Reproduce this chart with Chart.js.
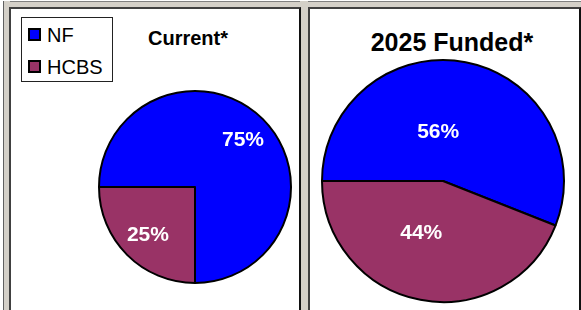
<!DOCTYPE html>
<html>
<head>
<meta charset="utf-8">
<script src="https://cdn.jsdelivr.net/npm/chart.js@4"></script>
<style>
  html, body { margin: 0; padding: 0; background: #fff; }
  body { width: 581px; height: 310px; position: relative; overflow: hidden; font-family: "Liberation Sans", Arial, sans-serif; }
  .band { position: absolute; background: #d4d0c8; }
  .panel { position: absolute; background: #fff; box-sizing: border-box; border: 2px solid #404040; border-right-color: #111; border-bottom: none; }
  .title { position: absolute; font-weight: bold; color: #000; text-align: center; white-space: nowrap; }
  #legend { position: absolute; left: 21px; top: 17px; width: 92px; height: 65px; box-sizing: border-box; border: 1px solid #222; background: #fff; }
  .item { position: absolute; left: 6px; font-size: 20px; line-height: 20px; }
  .swatch { position: absolute; left: 0; width: 13px; height: 13px; box-sizing: border-box; border: 2px solid #000; }
  .item span.txt { position: absolute; left: 19px; top: 0; }
  canvas { position: absolute; }
</style>
</head>
<body>
<div class="band" style="left:3px; top:1px; width:578px; height:8px; border-top:1px solid #808080;"></div>
<div class="band" style="left:3px; top:1px; width:6px; height:309px; border-left:1px solid #606060;"></div>
<div class="band" style="left:300px; top:1px; width:8px; height:309px;"></div>

<div class="panel" style="left:9px; top:7px; width:292px; height:303px;"></div>
<div class="panel" style="left:308px; top:7px; width:273px; height:303px;"></div>

<div id="legend"></div>
<div class="title" id="t1" style="left:128px; top:28px; width:120px; font-size:20px; line-height:20px;"></div>
<div class="title" id="t2" style="left:352px; top:30px; width:200px; font-size:25px; line-height:24px;"></div>

<div style="position:absolute; left:95px; top:87px; width:200px; height:200px;"><canvas id="pie1"></canvas></div>
<div style="position:absolute; left:318px; top:56px; width:250px; height:250px;"><canvas id="pie2"></canvas></div>

<script>
const categories = ['NF', 'HCBS'];
const colors = ['#0000ff', '#993366'];
const titles = ['Current*', '2025 Funded*'];
const currentValues = [75, 25];
const fundedValues = [56, 44];

// legend + titles
const legend = document.getElementById('legend');
categories.forEach((c, i) => {
    const it = document.createElement('div');
    it.className = 'item';
    it.style.top = (i === 0 ? 7 : 39) + 'px';
    it.innerHTML = '<span class="swatch" style="top:3px;background:' + colors[i] + '"></span><span class="txt">' + c + '</span>';
    legend.appendChild(it);
});
document.getElementById('t1').textContent = titles[0];
document.getElementById('t2').textContent = titles[1];

// white bold percent labels, offsets given as fraction of radius
const pctLabels = {
    id: 'pctLabels',
    afterDatasetsDraw(chart, args, opts) {
        const ctx = chart.ctx;
        const meta = chart.getDatasetMeta(0);
        ctx.save();
        ctx.fillStyle = '#fff';
        ctx.font = 'bold 21px "Liberation Sans", Arial, sans-serif';
        ctx.textAlign = 'center';
        ctx.textBaseline = 'middle';
        meta.data.forEach((arc, i) => {
            const r = arc.outerRadius;
            const off = opts.offsets[i];
            ctx.fillText(chart.data.datasets[0].data[i] + '%', arc.x + off[0] * r, arc.y + off[1] * r + 1);
        });
        ctx.restore();
    }
};

function makePie(id, values, radius, offsets) {
    new Chart(document.getElementById(id), {
        type: 'pie',
        data: {
            labels: categories,
            datasets: [{
                data: values,
                backgroundColor: colors,
                borderColor: '#000',
                borderWidth: 2
            }]
        },
        options: {
            responsive: true,
            maintainAspectRatio: false,
            animation: false,
            rotation: -90,
            radius: radius,
            layout: { padding: 0 },
            plugins: {
                legend: { display: false },
                tooltip: { enabled: false },
                pctLabels: { offsets: offsets }
            }
        },
        plugins: [pctLabels]
    });
}

makePie('pie1', currentValues, 96, [[0.5, -0.5], [-0.49, 0.49]]);
makePie('pie2', fundedValues, 121, [[-0.04, -0.41], [-0.18, 0.42]]);
</script>
</body>
</html>
